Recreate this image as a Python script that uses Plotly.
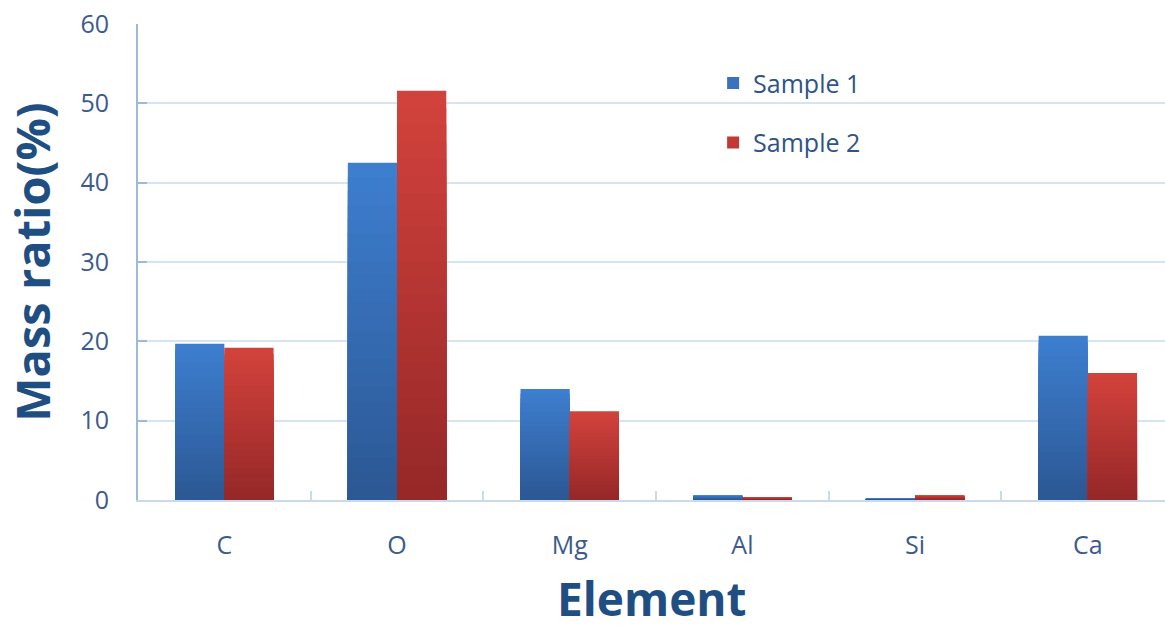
import plotly.graph_objects as go

elements = ["C", "O", "Mg", "Al", "Si", "Ca"]
sample1 = [19.7, 42.5, 14.0, 0.6, 0.15, 20.7]
sample2 = [19.2, 51.6, 11.2, 0.35, 0.6, 16.0]

series = [
    ("Sample 1", sample1, (61, 126, 207), (44, 88, 148), "#3A72BE"),
    ("Sample 2", sample2, (210, 66, 60), (150, 40, 40), "#C23835"),
]

STEPS = 24


def mix(c1, c2, t):
    return "rgb({},{},{})".format(*[round(a + (b - a) * t) for a, b in zip(c1, c2)])


fig = go.Figure()
for idx, (name, vals, top, bottom, legend_col) in enumerate(series):
    # stacked layers of shrinking height give a vertical light-to-dark gradient
    for k in range(STEPS):
        frac = 1 - k / STEPS
        fig.add_trace(go.Bar(
            x=elements,
            y=[v * frac for v in vals],
            name=name,
            offsetgroup=str(idx),
            legendgroup=name,
            showlegend=False,
            marker=dict(color=mix(top, bottom, k / (STEPS - 1)), line=dict(width=0)),
            hoverinfo="skip",
        ))
    # legend entry
    fig.add_trace(go.Bar(
        x=[None], y=[None], name=name, offsetgroup=str(idx), legendgroup=name,
        marker=dict(color=legend_col, line=dict(width=0)), showlegend=True,
    ))

tick_color = "#3B5B8C"
title_color = "#1F4E82"
fig.update_layout(
    width=1165, height=628,
    margin=dict(l=138, r=0, t=24, b=128),
    paper_bgcolor="white", plot_bgcolor="white",
    barmode="group", bargap=0.43, bargroupgap=0,
    font=dict(family="Open Sans, sans-serif", color=tick_color, size=25),
    legend=dict(
        x=0.56, y=0.924, xanchor="left", yanchor="top",
        font=dict(size=25, color="#2E5487"),
        itemsizing="constant", tracegroupgap=24,
        bgcolor="rgba(0,0,0,0)",
    ),
    xaxis=dict(
        range=[-0.5, 5.447],
        showgrid=False,
        showline=True, linecolor="#C9D9EE", linewidth=2,
        ticks="inside", ticklen=9, tickcolor="#C9D9EE", tickwidth=2,
        tickson="boundaries",
        ticklabelstandoff=22,
        tickfont=dict(size=25, color=tick_color),
    ),
    yaxis=dict(
        range=[0, 60], dtick=10,
        showgrid=True, gridcolor="#D6E3F3", gridwidth=2,
        showline=True, linecolor="#9DB9DD", linewidth=2,
        ticks="inside", ticklen=9, tickcolor="#9DB9DD", tickwidth=2,
        ticklabelstandoff=22,
        tickfont=dict(size=25, color=tick_color),
        zeroline=False,
        title=dict(text="<b>Mass ratio(%)</b>", font=dict(size=47, color=title_color), standoff=16),
    ),
    annotations=[dict(
        text="<b>Element</b>", xref="paper", yref="paper",
        x=0.5, y=-0.206, xanchor="center", yanchor="middle", showarrow=False,
        font=dict(size=46, color=title_color),
    )],
)

fig.write_html("out.html")
